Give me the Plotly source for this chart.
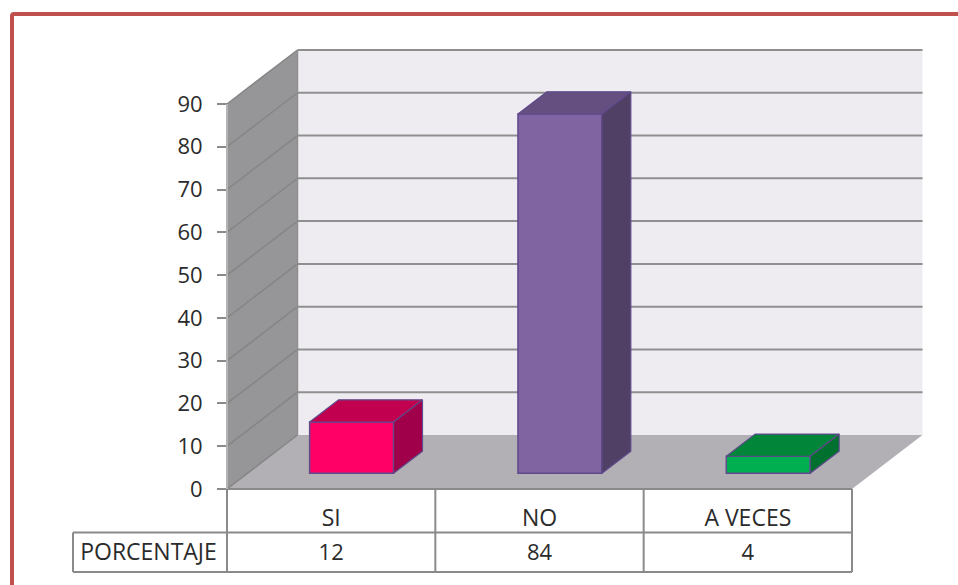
import plotly.graph_objects as go

categories = ["SI", "NO", "A VECES"]
values = [12, 84, 4]
series_name = "PORCENTAJE"
y_ticks = [0, 10, 20, 30, 40, 50, 60, 70, 80, 90]
front_colors = ["#ff0066", "#8064a2", "#00b050"]
top_colors = ["#c20050", "#644f80", "#008539"]
side_colors = ["#a0004a", "#514066", "#00702f"]

W, H = 958, 585
L, B = 227, 489      # pixel position of the chart origin
UX = 208.33          # px per category
UY = 4.278           # px per value unit
DX = 70.5 / UX       # full depth, in category units
DY = 54 / UY         # full depth, in value units
BAR_W = 0.403
D0, D1 = 0.29, 0.70  # bar depth extent

GRID = "#8f8f8f"
WALL_GRID = "#858585"
LINE = "#8a8a8a"
EDGE = "#5f4a8c"
FONT = "Open Sans"
TEXT = "#2b2b2b"


def px(x):
    return x / W


def py(y):
    return (H - y) / H


def proj(x, v, d):
    return x + d * DX, v + d * DY


fig = go.Figure()
shapes = []


def poly(points, fill):
    path = "M " + " L ".join(f"{a},{b}" for a, b in points) + " Z"
    shapes.append(dict(type="path", path=path, xref="x", yref="y", fillcolor=fill,
                       line=dict(color=fill, width=0), layer="below"))


top_value = max(y_ticks)
n = len(categories)
# back wall, side wall, floor
poly([proj(0, 0, 1), proj(n, 0, 1), proj(n, top_value, 1), proj(0, top_value, 1)], "#eeecf1")
poly([proj(0, 0, 0), proj(0, 0, 1), proj(0, top_value, 1), proj(0, top_value, 0)], "#969598")
poly([proj(0, 0, 0), proj(n, 0, 0), proj(n, 0, 1), proj(0, 0, 1)], "#b2b0b5")
# gridlines
for t in y_ticks:
    x0, y0 = proj(0, t, 0)
    x1, y1 = proj(0, t, 1)
    x2, y2 = proj(n, t, 1)
    if t > 0:
        shapes.append(dict(type="line", xref="x", yref="y", x0=x1, y0=y1, x1=x2, y1=y2,
                           line=dict(color=GRID, width=2), layer="below"))
    shapes.append(dict(type="line", xref="x", yref="y", x0=x0, y0=y0, x1=x1, y1=y1,
                       line=dict(color=WALL_GRID, width=1.5), layer="below"))
# wall edge
xa, ya = proj(0, 0, 1)
xb, yb = proj(0, top_value, 1)
shapes.append(dict(type="line", xref="x", yref="y", x0=xa, y0=ya, x1=xb, y1=yb,
                   line=dict(color=GRID, width=1.5), layer="below"))

# bars: front face through the library's bar trace, top and side as polygons
for i, (c, v) in enumerate(zip(categories, values)):
    xc = i + 0.5
    x_l, x_r = xc - BAR_W / 2, xc + BAR_W / 2
    base_x, base_y = proj(xc, 0, D0)
    fig.add_trace(go.Bar(x=[base_x], y=[v], base=[base_y], width=[BAR_W], name=c,
                         marker=dict(color=front_colors[i], line=dict(color=EDGE, width=1.5)),
                         showlegend=False))
    top = [proj(x_l, v, D0), proj(x_r, v, D0), proj(x_r, v, D1), proj(x_l, v, D1), proj(x_l, v, D0)]
    side = [proj(x_r, 0, D0), proj(x_r, 0, D1), proj(x_r, v, D1), proj(x_r, v, D0), proj(x_r, 0, D0)]
    for pts, col in ((top, top_colors[i]), (side, side_colors[i])):
        fig.add_trace(go.Scatter(x=[p[0] for p in pts], y=[p[1] for p in pts], mode="lines",
                                 fill="toself", fillcolor=col, line=dict(color=EDGE, width=1.2),
                                 showlegend=False, hoverinfo="skip"))

# data table lines
TBL_L, TBL_MID, TBL_BOT = 73, 532.5, 572
COLS = [L + UX * k for k in range(n + 1)]
ROW_TEXT_V = (B - 554) / UY   # table value row, in value units


def pline(x0, y0, x1, y1, color=LINE, width=2):
    shapes.append(dict(type="line", xref="paper", yref="paper", x0=px(x0), y0=py(y0),
                       x1=px(x1), y1=py(y1), line=dict(color=color, width=width)))


pline(L - 10, B, COLS[-1], B)
pline(TBL_L, TBL_MID, COLS[-1], TBL_MID)
pline(TBL_L, TBL_BOT, COLS[-1], TBL_BOT)
pline(TBL_L, TBL_MID, TBL_L, TBL_BOT)
for cx in COLS:
    pline(cx, B, cx, TBL_BOT)
pline(L, 104, L, B, color="#b4b4b4", width=2)

# red frame
shapes.append(dict(type="path", xref="paper", yref="paper",
                   path=(f"M {px(12)},{py(585)} L {px(12)},{py(16)} "
                         f"Q {px(12)},{py(14)} {px(14)},{py(14)} L {px(958)},{py(14)}"),
                   line=dict(color="#c0504d", width=4)))

# table text
fig.add_trace(go.Scatter(x=[i + 0.5 for i in range(n)], y=[ROW_TEXT_V] * n, mode="text",
                         text=[str(v) for v in values], textposition="middle center",
                         textfont=dict(family=FONT, size=22, color=TEXT),
                         showlegend=False, hoverinfo="skip"))
fig.add_trace(go.Scatter(x=[(148.5 - L) / UX], y=[ROW_TEXT_V], mode="text",
                         text=[series_name], textposition="middle center",
                         textfont=dict(family=FONT, size=23, color=TEXT),
                         showlegend=False, hoverinfo="skip"))

fig.update_layout(
    width=W, height=H, autosize=False,
    margin=dict(l=0, r=0, t=0, b=0),
    paper_bgcolor="white", plot_bgcolor="rgba(0,0,0,0)",
    shapes=shapes, barmode="overlay", showlegend=False,
    xaxis=dict(range=[-L / UX, (W - L) / UX], tickmode="array",
               anchor="free", position=py(B),
               tickvals=[i + 0.5 for i in range(n)], ticktext=categories,
               showgrid=False, zeroline=False, showline=False, ticks="outside", ticklen=8,
               tickcolor="rgba(0,0,0,0)",
               tickfont=dict(family=FONT, size=23, color=TEXT)),
    yaxis=dict(range=[(B - H) / UY, B / UY], tickmode="array", tickvals=y_ticks,
               anchor="free", position=px(L),
               ticktext=[str(t) for t in y_ticks], showgrid=False, zeroline=False,
               showline=False, ticks="outside", ticklen=10, tickwidth=2, tickcolor=LINE,
               ticklabelstandoff=10,
               tickfont=dict(family=FONT, size=22, color=TEXT)),
)

fig.write_html("out.html", config={"displayModeBar": False},
               post_script="document.body.style.margin='0';document.documentElement.style.overflow='hidden';")
